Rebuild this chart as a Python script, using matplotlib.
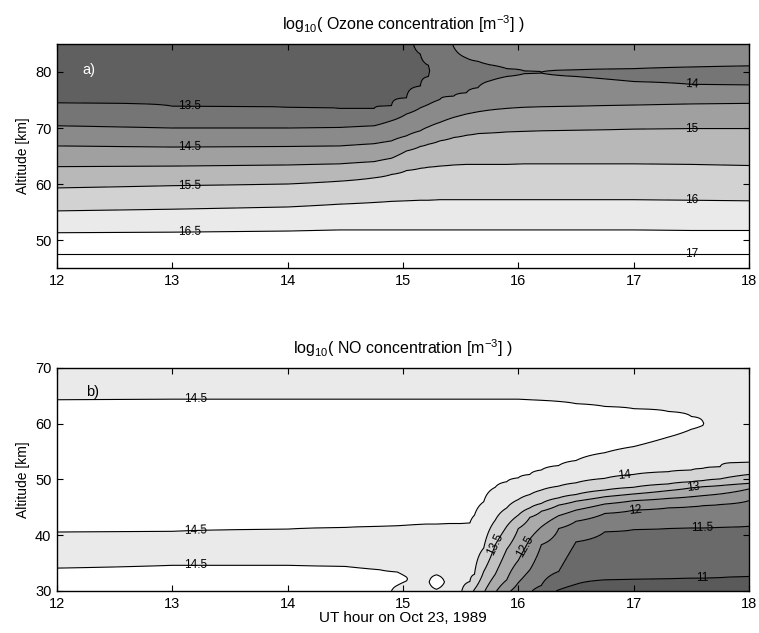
import numpy as np
import matplotlib
matplotlib.use('Agg')
from matplotlib import pyplot as plt

plt.rcParams['font.family'] = ['Liberation Sans', 'DejaVu Sans']
plt.rcParams['mathtext.default'] = 'regular'

nan = np.nan

# ---- panel a: log10 ozone, altitude [km] of each contour crossing per UT column
o3_hours = [12, 13, 14, 14.45, 14.75, 14.9, 15.03, 15.15, 15.22, 15.32, 15.44,
            15.55, 15.65, 15.75, 15.9, 16.05, 16.2, 16.5, 17, 17.5, 18]
o3_170 = [47.5] * 21
o3_165 = [51.3, 51.4, 51.6, 51.8, 51.8, 51.8, 51.8, 51.8, 51.8, 51.8, 51.8,
          51.8, 51.8, 51.8, 51.8, 51.8, 51.8, 51.8, 51.8, 51.7, 51.7]
o3_160 = [55.2, 55.5, 55.9, 56.4, 56.7, 56.9, 57.0, 57.1, 57.1, 57.2, 57.2,
          57.2, 57.2, 57.2, 57.2, 57.2, 57.2, 57.2, 57.2, 57.1, 57.0]
o3_155 = [59.3, 59.7, 60.0, 60.5, 61.1, 61.7, 62.4, 62.8, 63.0, 63.2, 63.4,
          63.5, 63.5, 63.5, 63.5, 63.6, 63.6, 63.6, 63.6, 63.5, 63.3]
o3_150 = [63.1, 63.2, 63.4, 63.6, 64.0, 64.6, 65.9, 66.7, 67.1, 67.7, 68.3,
          68.7, 69.0, 69.1, 69.3, 69.4, 69.5, 69.6, 69.8, 69.9, 69.9]
o3_145 = [66.8, 66.6, 66.7, 66.8, 67.2, 67.7, 68.6, 69.5, 70.2, 71.0, 71.9,
          72.5, 72.9, 73.2, 73.5, 73.7, 73.8, 73.9, 74.1, 74.3, 74.4]
o3_140_low = [70.4, 70.0, 70.0, 70.1, 70.4, 71.3, 72.5, 73.6, 74.2, 75.1, 75.7,
              76.3, 77.2, 78.4, 79.2, 79.7, 79.8, 79.2, 78.3, 77.8, 77.7]
o3_140_up = [nan, nan, nan, nan, nan, nan, nan, nan, nan, nan, nan,
             82.5, 81.9, 81.3, 80.6, 80.2, 80.0, 80.4, 80.6, 80.9, 81.1]
o3_135_low = [74.5, 73.9, 73.7, 73.5, 73.5, 74.0, 75.4, 77.5, 79.2, nan, nan,
              nan, nan, nan, nan, nan, nan, nan, nan, nan, nan]
o3_135_up = [nan, nan, nan, nan, nan, nan, nan, 83.2, 81.2, nan, nan,
             nan, nan, nan, nan, nan, nan, nan, nan, nan, nan]
o3_dip = [nan, nan, nan, nan, nan, nan, nan, 13.45, 13.45, nan, 13.85,
          13.9, 13.9, 13.9, 13.9, 13.9, 13.98, 13.9, 13.9, 13.9, 13.9]
o3_top = [13.3, 13.3, 13.3, 13.3, 13.3, 13.3, 13.3, 13.7, 13.7, 13.8, 14.02,
          14.2, 14.2, 14.2, 14.2, 14.2, 14.2, 14.2, 14.2, 14.2, 14.2]
o3_bottom = [17.2] * 21

o3_levels = [13.5, 14, 14.5, 15, 15.5, 16, 16.5, 17]
o3_colors = ['#606060', '#757575', '#8a8a8a', '#a0a0a0', '#b8b8b8',
             '#d2d2d2', '#eaeaea', '#ffffff', '#ffffff']

# ---- panel b: log10 NO
no_hours = [12, 13, 14, 14.5, 14.8, 14.95, 15.03, 15.1, 15.2, 15.29, 15.4,
            15.5, 15.58, 15.62, 15.7, 15.8, 15.9, 16.0, 16.1, 16.2, 16.35,
            16.5, 16.75, 17.0, 17.3, 17.5, 17.6, 17.75, 18]
no_110 = [nan] * 20 + [30.2, 31.2, 32.0, 32.1, 32.2, 32.3, 32.3, 32.4, 32.6]
no_115 = [nan] * 19 + [31.0, 33.5, 38.8, 40.6, 41.0, 41.2, 41.3, 41.3, 41.4, 41.6]
no_120 = [nan] * 17 + [31.5, 33.8, 38.3, 41.2, 42.5, 43.9, 44.5, 44.9, 45.1,
                       45.3, 45.5, 46.2]
no_125 = [nan] * 16 + [32.0, 35.5, 39.3, 41.5, 43.5, 44.5, 45.6, 46.2, 46.6,
                       46.9, 47.1, 47.4, 48.3]
no_130 = [nan] * 15 + [33.0, 37.5, 41.2, 43.2, 44.3, 45.4, 46.1, 46.9, 47.4,
                       48.0, 48.5, 48.7, 48.9, 49.3]
no_135 = [nan] * 13 + [30.3, 33.5, 38.3, 41.6, 43.6, 44.9, 45.7, 46.7, 47.3,
                       48.1, 48.6, 49.2, 49.6, 49.8, 50.1, 50.9]
no_140 = [nan] * 12 + [31.7, 33.0, 37.7, 42.7, 44.9, 46.4, 47.3, 48.1, 48.8,
                       49.4, 50.2, 50.9, 51.4, 51.7, 52.0, 52.3, 53.1]
no_145_low = [40.55, 40.7, 41.1, 41.4, 41.6, 41.7, 41.8, 41.9, 42.0, 42.0, 42.1,
              42.1, 42.2, 43.6, 46.0, 48.6, 49.6, 50.3, 50.9, 51.7, 52.5,
              53.4, 54.8, 55.9, 57.6, 59.0, 59.7, nan, nan]
no_145_up = [64.3, 64.4, 64.4, 64.4, 64.4, 64.4, 64.4, 64.4, 64.4, 64.4, 64.4,
             64.4, 64.4, 64.4, 64.4, 64.4, 64.4, 64.4, 64.3, 64.2, 64.0,
             63.6, 63.1, 62.7, 62.2, 61.3, 60.4, nan, nan]
no_bub_top = [34.1, 34.6, 34.6, 34.4, 33.8, 33.4, 32.5, nan, nan, 32.9, nan] + [nan] * 18
no_bub_bot = [nan, nan, nan, nan, nan, 31.0, 31.8, nan, nan, 30.3, nan] + [nan] * 18
no_bub_peak = [nan, nan, nan, nan, nan, 14.56, 14.52, nan, nan, 14.8, nan] + [nan] * 18
no_gap_min = [14.3, 14.3, 14.3, 14.3, 14.3, 14.3, 14.3, nan, nan, 14.35, nan] + [nan] * 18
no_white_peak = [14.8] * 24 + [14.7, 14.6, 14.52, nan, nan]
no_top = [14.3] * 29
no_bottom = [14.7, 14.7, 14.7, 14.7, 14.6, 14.45, 14.4, 14.35, 14.35, 14.4, 14.3,
             14.05, 13.65, 13.45, 13.05, 12.55, 12.1, 11.8, 11.55, 11.3, 10.95,
             10.8, 10.7, 10.7, 10.7, 10.7, 10.7, 10.7, 10.7]

no_levels = [11, 11.5, 12, 12.5, 13, 13.5, 14, 14.5]
no_colors = ['#5a5a5a', '#6a6a6a', '#7f7f7f', '#959595', '#aaaaaa',
             '#c0c0c0', '#d5d5d5', '#eaeaea', '#ffffff']


def build_field(hours, lines, extras, bottom, top, y0, y1, n=401):
    # one vertical profile per UT column, piecewise linear through the crossings
    alt = np.linspace(y0, y1, n)
    Z = np.empty((n, len(hours)))
    for j in range(len(hours)):
        pts = [(y0, bottom[j]), (y1, top[j])]
        for level, arr in lines:
            if not np.isnan(arr[j]):
                pts.append((arr[j], level))
        for val, lo, hi in extras:
            if not np.isnan(val[j]):
                pts.append(((lo[j] + hi[j]) / 2, val[j]))
        pts.sort()
        a, v = zip(*pts)
        Z[:, j] = np.interp(alt, a, v)
    return alt, Z


o3_135_up_a = np.array(o3_135_up)
o3_dip_lo = np.where(np.isnan(o3_135_up_a), o3_140_low, o3_135_low)
o3_dip_hi = np.where(np.isnan(o3_135_up_a),
                     np.where(np.isnan(o3_140_up), 85, o3_140_up), o3_135_up_a)
o3_lines = [(17, o3_170), (16.5, o3_165), (16, o3_160), (15.5, o3_155),
            (15, o3_150), (14.5, o3_145), (14, o3_140_low), (14, o3_140_up),
            (13.5, o3_135_low), (13.5, o3_135_up)]
o3_alt, o3_Z = build_field(o3_hours, o3_lines, [(o3_dip, o3_dip_lo, o3_dip_hi)],
                           o3_bottom, o3_top, 45, 85)

no_lines = [(11, no_110), (11.5, no_115), (12, no_120), (12.5, no_125),
            (13, no_130), (13.5, no_135), (14, no_140), (14.5, no_145_low),
            (14.5, no_145_up), (14.5, no_bub_top), (14.5, no_bub_bot)]
no_extras = [(no_white_peak, no_145_low, no_145_up),
             (no_gap_min, no_bub_top, no_145_low),
             (no_bub_peak, no_bub_bot, no_bub_top)]
no_alt, no_Z = build_field(no_hours, no_lines, no_extras, no_bottom, no_top, 30, 70)

fig = plt.figure(figsize=(7.59, 6.33), dpi=100)
ax1 = fig.add_axes([0.0751, 0.5766, 0.9117, 0.3539])
ax2 = fig.add_axes([0.0751, 0.0664, 0.9117, 0.3523])

# panel a
ax1.contourf(o3_hours, o3_alt, o3_Z, levels=[10] + o3_levels + [20], colors=o3_colors)
cs1 = ax1.contour(o3_hours, o3_alt, o3_Z, levels=o3_levels, colors='k', linewidths=0.8)
ax1.clabel(cs1, fontsize=8.5, fmt='%g', inline=False,
           manual=[(13.15, 73.9), (13.15, 66.6), (13.15, 59.6), (13.15, 51.4),
                   (17.5, 77.8), (17.5, 69.9), (17.5, 57.1), (17.5, 47.5)])
ax1.set_xlim(12, 18)
ax1.set_ylim(45, 85)
ax1.set_yticks([50, 60, 70, 80])
ax1.set_ylabel('Altitude [km]', fontsize=10)
ax1.set_title('log$_{10}$( Ozone concentration [m$^{-3}$] )', fontsize=11.5, pad=10)
ax1.text(12.22, 80.3, 'a)', color='w', fontsize=10.5, va='center')

# panel b
ax2.contourf(no_hours, no_alt, no_Z, levels=[5] + no_levels + [20], colors=no_colors)
cs2 = ax2.contour(no_hours, no_alt, no_Z, levels=no_levels, colors='k', linewidths=0.8)
ax2.clabel(cs2, fontsize=8.5, fmt='%g', inline=False,
           manual=[(13.2, 64.4), (13.2, 40.7), (13.2, 34.6), (16.92, 50.8),
                   (17.52, 48.5), (17.01, 44.5), (17.59, 41.3), (17.59, 32.3),
                   (15.8, 38.3), (16.06, 38.0)])
ax2.set_xlim(12, 18)
ax2.set_ylim(30, 70)
ax2.set_yticks([30, 40, 50, 60, 70])
ax2.set_ylabel('Altitude [km]', fontsize=10)
ax2.set_xlabel('UT hour on Oct 23, 1989', fontsize=11, labelpad=0)
ax2.set_title('log$_{10}$( NO concentration [m$^{-3}$] )', fontsize=11.5, pad=10)
ax2.text(12.25, 65.7, 'b)', color='k', fontsize=10.5, va='center')

for ax in (ax1, ax2):
    ax.set_xticks([12, 13, 14, 15, 16, 17, 18])
    ax.tick_params(direction='in', top=True, right=True, length=4, width=0.8,
                   labelsize=10.5, pad=4)
    for sp in ax.spines.values():
        sp.set_linewidth(1.0)

plt.savefig('out.png', dpi=100)
